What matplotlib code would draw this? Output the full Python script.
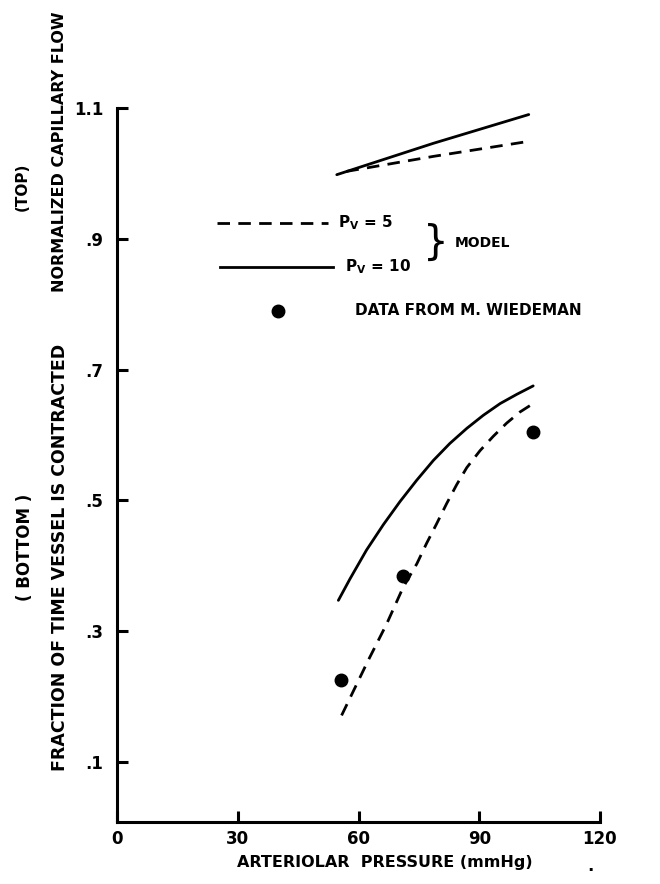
import matplotlib
matplotlib.use('Agg')
import matplotlib.pyplot as plt

# model curves
top_x = [54.6, 78.6, 102.3]
top_pv10 = [0.998, 1.046, 1.090]
top_pv5_x = [57.0, 78.6, 102.3]
top_pv5 = [1.003, 1.026, 1.049]

bot_pv10_x = [55.0, 57.9, 62.0, 66.2, 70.3, 74.5, 78.6, 82.7, 86.9, 91.0, 95.2, 99.3, 103.4]
bot_pv10 = [0.347, 0.380, 0.424, 0.463, 0.498, 0.531, 0.561, 0.587, 0.610, 0.630, 0.648,
            0.662, 0.675]
bot_pv5_x = [55.8, 62.4, 67.0, 71.1, 74.5, 76.9, 79.4, 81.9, 84.4, 86.9, 90.2, 93.5, 96.8,
             100.1, 103.4]
bot_pv5 = [0.171, 0.255, 0.311, 0.367, 0.403, 0.434, 0.464, 0.495, 0.524, 0.550, 0.576,
           0.598, 0.618, 0.635, 0.648]

# data from M. Wiedeman
data_x = [55.7, 71.1, 103.3]
data_y = [0.225, 0.385, 0.604]

xticks = [0, 30, 60, 90, 120]
yticks = [0.1, 0.3, 0.5, 0.7, 0.9, 1.1]
ytick_labels = ['.1', '.3', '.5', '.7', '.9', '1.1']

W, H = 660, 884
K = 'black'
DASH = (0, (4.5, 3))


def fx(px):
    return px / W


def fy(py):
    return 1 - py / H


def main():
    fig = plt.figure(figsize=(W / 100, H / 100), dpi=100)
    ax = fig.add_axes([fx(117), fy(822), (600 - 117) / W, (822 - 108) / H])

    # top panel
    ax.plot(top_x, top_pv10, color=K, lw=2.0, solid_capstyle='round')
    ax.plot(top_pv5_x, top_pv5, color=K, lw=2.0, linestyle=DASH)

    # bottom panel
    ax.plot(bot_pv10_x, bot_pv10, color=K, lw=2.0, solid_capstyle='round')
    ax.plot(bot_pv5_x, bot_pv5, color=K, lw=2.0, linestyle=DASH)
    ax.plot(data_x, data_y, 'o', color=K, markersize=9)

    # legend drawn by hand like the original
    ax.plot([24.8, 52.4], [0.924, 0.924], color=K, lw=2.0, linestyle=DASH)
    ax.plot([25.6, 53.7], [0.857, 0.857], color=K, lw=2.0)
    ax.plot([40], [0.79], 'o', color=K, markersize=9)
    ax.text(54.9, 0.924, r'$\mathbf{P_V}$ = 5', fontsize=11, fontweight='bold', va='center')
    ax.text(56.6, 0.857, r'$\mathbf{P_V}$ = 10', fontsize=11, fontweight='bold', va='center')
    ax.text(76.0, 0.893, '}', fontsize=29, va='center')
    ax.text(83.8, 0.893, 'MODEL', fontsize=10, fontweight='bold', va='center')
    ax.text(59.1, 0.79, 'DATA FROM M. WIEDEMAN', fontsize=11, fontweight='bold', va='center')

    ax.set_xlim(0, 120)
    ax.set_ylim(0.008, 1.1)
    ax.set_xticks(xticks)
    ax.set_xticklabels([str(v) for v in xticks], fontsize=12, fontweight='bold')
    ax.set_yticks(yticks)
    ax.set_yticklabels(ytick_labels, fontsize=12, fontweight='bold')
    ax.tick_params(direction='in', length=8, width=2.2, color=K)
    ax.tick_params(axis='y', pad=10)
    ax.tick_params(axis='x', pad=6)

    for s in ['top', 'right']:
        ax.spines[s].set_visible(False)
    for s in ['left', 'bottom']:
        ax.spines[s].set_linewidth(2.2)

    # axis titles
    fig.text(fx(385), fy(862), 'ARTERIOLAR  PRESSURE (mmHg)', fontsize=11.5,
             fontweight='bold', ha='center', va='center')
    fig.text(fx(590), fy(866), '.', fontsize=12, fontweight='bold', ha='center', va='center')
    fig.text(fx(60), fy(152), 'NORMALIZED CAPILLARY FLOW', fontsize=11.5, fontweight='bold',
             rotation=90, ha='center', va='center')
    fig.text(fx(22), fy(187), '(TOP)', fontsize=11, fontweight='bold',
             rotation=90, ha='center', va='center')
    fig.text(fx(60), fy(557), 'FRACTION OF TIME VESSEL IS CONTRACTED', fontsize=12.5,
             fontweight='bold', rotation=90, ha='center', va='center')
    fig.text(fx(25), fy(547), '( BOTTOM )', fontsize=12, fontweight='bold',
             rotation=90, ha='center', va='center')

    fig.savefig('out.png', dpi=100, facecolor='white')


if __name__ == '__main__':
    main()
